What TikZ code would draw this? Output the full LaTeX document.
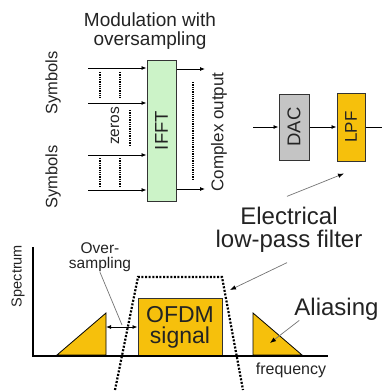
\documentclass[tikz,border=0pt]{standalone}
\usepackage{fontspec}
\setmainfont{Liberation Sans}
\usepackage{graphicx}
\usepackage{tikz}
\usetikzlibrary{arrows.meta,positioning}

\definecolor{ifftgreen}{RGB}{204,243,200}
\definecolor{dacgray}{RGB}{196,196,196}
\definecolor{gold}{RGB}{246,192,12}
\definecolor{darktext}{RGB}{35,35,35}

\begin{document}
\begin{tikzpicture}[
    x=1pt, y=-1pt,
    >={Latex[length=5pt,width=4pt]},
    txt/.style={text=darktext, inner sep=0pt, align=center},
    box/.style={draw=black!80, line width=1pt, inner sep=0pt, text=darktext, align=center},
    arr/.style={->, line width=0.8pt},
    dbl/.style={<->, line width=0.8pt},
    dots/.style={line width=2.4pt, dash pattern=on 1.3pt off 1pt},
    filt/.style={line width=2.2pt, dash pattern=on 2pt off 1.6pt},
    ptr/.style={draw=black!55, line width=0.7pt},
    ptrarr/.style={ptr, -{Latex[length=6pt,width=4.5pt,color=black]}},
    tri/.style={draw=black, line width=0.8pt, fill=gold},
    axis/.style={line width=2.2pt}
]
\useasboundingbox (0,0) rectangle (382,391);

\node[txt, font=\fontsize{19}{18.5}\selectfont] (title) at (150,31) {Modulation with\\oversampling};

\node[box, fill=ifftgreen, minimum width=29pt, minimum height=141pt, font=\fontsize{18.5}{18.5}\selectfont] (ifft) at (161.5,130.5) {\rotatebox{90}{IFFT}};
\node[box, fill=dacgray, minimum width=30pt, minimum height=66pt, font=\fontsize{18.5}{18.5}\selectfont] (dac) at (294,127) {\rotatebox{90}{DAC}};
\node[box, fill=gold, minimum width=28pt, minimum height=68pt, font=\fontsize{17}{17}\selectfont, right=27pt of dac] (lpf) {\rotatebox{90}{LPF}};

\node[txt, rotate=90, font=\fontsize{16.5}{16.5}\selectfont] (sym1) at (53,83) {Symbols};
\node[txt, rotate=90, font=\fontsize{16.5}{16.5}\selectfont] (sym2) at (53,177) {Symbols};
\node[txt, rotate=90, font=\fontsize{15.5}{15.5}\selectfont] (zeros) at (115,126) {zeros};
\node[txt, rotate=90, font=\fontsize{17}{17}\selectfont] (cplx) at (219,132) {Complex output};

\coordinate (s1) at (88,68);
\coordinate (s2) at (88,103);
\coordinate (s3) at (88,155);
\coordinate (s4) at (88,190);
\foreach \i in {1,...,4}
    \draw[arr] (s\i) -- (s\i -| ifft.west);
\foreach \x in {100,120} {
    \draw[dots] (\x,72) -- (\x,98);
    \draw[dots] (\x,158) -- (\x,187);
}
\draw[dots] (130,110) -- (130,145);

\coordinate (o1) at (205,69);
\coordinate (o2) at (205,189);
\draw[arr] (ifft.east |- o1) -- (o1);
\draw[arr] (ifft.east |- o2) -- (o2);
\draw[dots] (193,82) -- (193,180);

\coordinate (dacin) at (253,127);
\coordinate (lpfout) at (382,127);
\draw[arr] (dacin) -- (dac);
\draw[arr] (dac) -- (lpf);
\draw[line width=0.8pt] (lpf) -- (lpfout);

\node[txt, font=\fontsize{24}{22.5}\selectfont] (elec) at (289,230) {Electrical\\low-pass filter};

\draw[tri] (57,355) -- (106,313) -- (106,355) -- cycle;
\draw[tri] (253,313) -- (253,355) -- (302,355) -- cycle;
\node[box, fill=gold, minimum width=84pt, minimum height=58pt, font=\fontsize{23}{21}\selectfont] (ofdm) at (180,327) {OFDM\\signal};
\draw[axis] (33,247) -- (33,356) -- (328,356);

\coordinate (ltri) at (106,327);
\draw[dbl] (ltri) -- (ofdm.west);
\draw[filt] (115,390) -- (138,277) -- (222,277) -- (243,390);

\node[txt, font=\fontsize{15.5}{15}\selectfont] (osmp) at (100,257.5) {Over-\\sampling};
\node[txt, rotate=90, font=\fontsize{14.5}{14.5}\selectfont] (spec) at (18,276) {Spectrum};
\node[txt, font=\fontsize{16}{16}\selectfont] (freq) at (291,370) {frequency};
\node[txt, font=\fontsize{24}{24}\selectfont] (alias) at (336.5,309) {Aliasing};

\coordinate (osmptip) at (122,325);
\coordinate (fltip) at (230,290);
\coordinate (rtri) at (270,343);
\draw[ptr] (osmp.south) -- (osmptip);
\draw[ptrarr] ([shift={(-2,-11)}]elec.north) -- ([shift={(-7,12)}]lpf.south);
\draw[ptrarr] ([shift={(-2,10)}]elec.south) -- (fltip);
\draw[ptrarr] ([xshift=5pt]alias.south west) -- (rtri);
\end{tikzpicture}
\end{document}
